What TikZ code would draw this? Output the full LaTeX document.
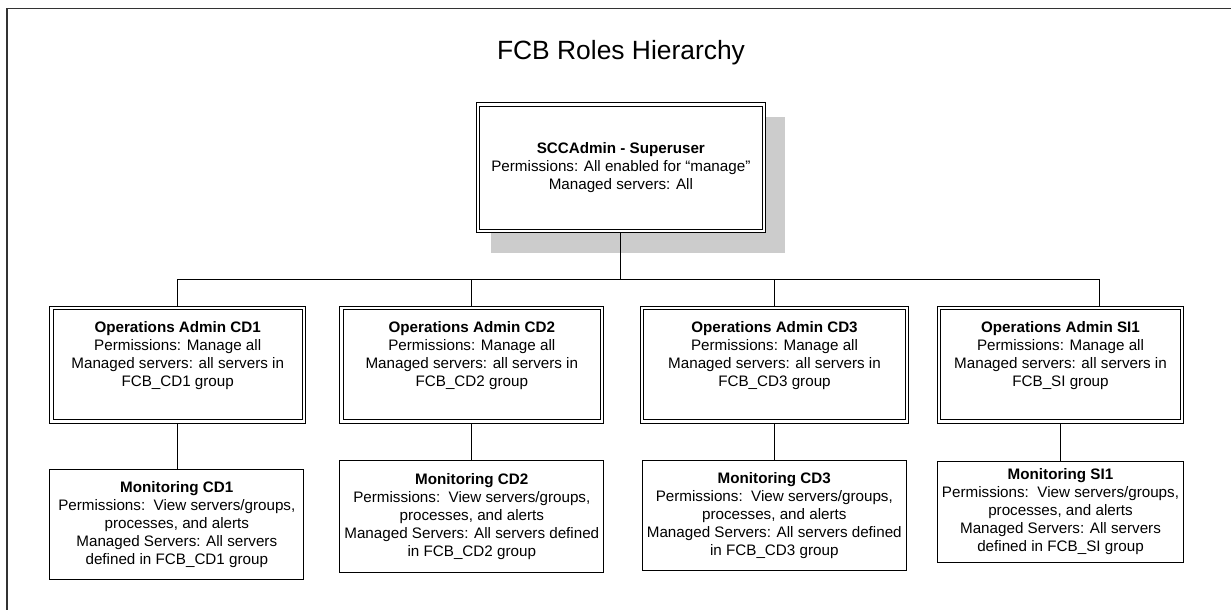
\documentclass[tikz,border=0pt]{standalone}
\usepackage{fontspec}
\setmainfont{Liberation Sans}
\usetikzlibrary{calc,backgrounds}
\newdimen\pxu \pxu=0.75pt
\begin{document}
\begin{tikzpicture}[x=0.75pt,y=-0.75pt,
  txt/.style={font=\fontsize{11.4}{13.5}\selectfont, align=center, inner sep=0pt},
  dbox/.style={draw, line width=0.75pt, double, double distance=1.8pt, fill=white, inner sep=0pt, outer sep=2.2\pxu},
  sbox/.style={draw, line width=0.75pt, fill=white, inner sep=0pt, outer sep=0.5\pxu, txt},
  conn/.style={line width=0.75pt},
  shadowfill/.style={fill=black!20},
  framestyle/.style={line width=1.5\pxu, draw=black!80, line join=miter},
]
\useasboundingbox (0,0) rectangle (1231,610);
\draw[framestyle] (7,610) -- (7,8.5) -- (1231,8.5);

\node[anchor=base, font=\fontsize{19.8}{24}\selectfont] (title) at (621,59.3) {FCB Roles Hierarchy};

% top box
\node[dbox, txt, minimum width=285.9\pxu, minimum height=126.6\pxu] (top) at (620.85,167.8)
  {\textbf{SCCAdmin - Superuser}\\Permissions: All enabled for “manage”\\Managed servers: All};
\begin{scope}[on background layer]
  \fill[shadowfill] ($(top.north west)+(14.8,14.8)$) rectangle ($(top.south east)+(19.2,19.2)$);
\end{scope}

% operations boxes
\node[dbox, minimum width=252.3\pxu, minimum height=113.1\pxu] (ops1) at (177.7,364.75) {};
\node[dbox, minimum width=260.6\pxu, minimum height=113.1\pxu] (ops2) at (471.8,364.75) {};
\node[dbox, minimum width=264.6\pxu, minimum height=113.1\pxu] (ops3) at (774.5,364.75) {};
\node[dbox, minimum width=243.2\pxu, minimum height=113.1\pxu] (ops4) at (1060.5,364.75) {};

\node[txt] (ops1t) at (177.7,356) {\textbf{Operations Admin CD1}\\Permissions: Manage all\\Managed servers: all servers in\\FCB\_CD1 group};
\node[txt] (ops2t) at (471.8,356) {\textbf{Operations Admin CD2}\\Permissions: Manage all\\Managed servers: all servers in\\FCB\_CD2 group};
\node[txt] (ops3t) at (774.5,356) {\textbf{Operations Admin CD3}\\Permissions: Manage all\\Managed servers: all servers in\\FCB\_CD3 group};
\node[txt] (ops4t) at (1060.5,356) {\textbf{Operations Admin SI1}\\Permissions: Manage all\\Managed servers: all servers in\\FCB\_SI group};

% monitoring boxes
\node[sbox, minimum width=254\pxu, minimum height=109.7\pxu] (mon1) at (176.8,524.7)
  {\textbf{Monitoring CD1}\\Permissions:\ \ View servers/groups,\\processes, and alerts\\Managed Servers: All servers\\defined in FCB\_CD1 group};
\node[sbox, minimum width=264\pxu, minimum height=111.7\pxu] (mon2) at (471.8,516.3)
  {\textbf{Monitoring CD2}\\Permissions:\ \ View servers/groups,\\processes, and alerts\\Managed Servers: All servers defined\\in FCB\_CD2 group};
\node[sbox, minimum width=263.7\pxu, minimum height=110\pxu] (mon3) at (774.3,515.5)
  {\textbf{Monitoring CD3}\\Permissions:\ \ View servers/groups,\\processes, and alerts\\Managed Servers: All servers defined\\in FCB\_CD3 group};
\node[sbox, minimum width=246.6\pxu, minimum height=101\pxu] (mon4) at (1060.5,511.7)
  {\textbf{Monitoring SI1}\\Permissions:\ \ View servers/groups,\\processes, and alerts\\Managed Servers: All servers\\defined in FCB\_SI group};

% connectors
\coordinate (bar) at (0,279);
\coordinate (si1in) at ($(ops4.north)+(38.5,0)$);
\draw[conn] (top.south) -- (top.south |- bar);
\draw[conn] (ops1.north) -- (ops1.north |- bar) -- (si1in |- bar) -- (si1in);
\draw[conn] (ops2.north) -- (ops2.north |- bar);
\draw[conn] (ops3.north) -- (ops3.north |- bar);

\draw[conn] (ops1.south) -- (ops1.south |- mon1.north);
\draw[conn] (ops2.south) -- (ops2.south |- mon2.north);
\draw[conn] (ops3.south) -- (ops3.south |- mon3.north);
\draw[conn] (ops4.south) -- (ops4.south |- mon4.north);
\end{tikzpicture}
\end{document}
